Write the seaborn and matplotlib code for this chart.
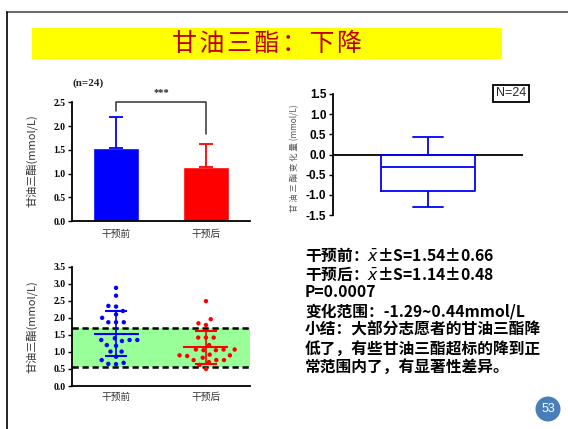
import matplotlib
matplotlib.use("Agg")
import matplotlib.pyplot as plt
from matplotlib.lines import Line2D
from matplotlib.patches import Rectangle
from matplotlib.ticker import FormatStrFormatter, MultipleLocator
import numpy as np
import pandas as pd
import seaborn as sns

# ─── Data ─────────────────────────────────────────────────────────────────────

groups = ["干预前", "干预后"]
group_colors = ["#0000ff", "#ff0000"]

# individual triglyceride values (mmol/L)
before_vals = [2.88, 2.65, 2.35, 2.33, 2.20, 2.10, 2.00, 1.87, 1.87, 1.87, 1.40, 1.35,
               1.35, 1.35, 1.32, 1.20, 1.18, 1.01, 1.01, 0.86, 0.76, 0.68, 0.65, 0.64]
after_vals = [2.49, 1.96, 1.84, 1.79, 1.42, 1.42, 1.42, 1.20, 1.07, 1.07, 1.07, 1.05,
              1.05, 0.92, 0.90, 0.90, 0.88, 0.83, 0.76, 0.76, 0.76, 0.70, 0.62, 0.50]

mean_vals = [1.54, 1.14]
sd_vals = [0.66, 0.48]
normal_range = [0.57, 1.70]

# change after - before: min, Q1, median, Q3, max
change_summary = [-1.29, -0.90, -0.30, 0.00, 0.44]

summary_lines = [
    "干预前：$\\bar{x}$±S=1.54±0.66",
    "干预后：$\\bar{x}$±S=1.14±0.48",
    "P=0.0007",
    "变化范围：-1.29~0.44mmol/L",
    "小结：大部分志愿者的甘油三酯降",
    "低了，有些甘油三酯超标的降到正",
    "常范围内了，有显著性差异。",
]

# ─── Setup ────────────────────────────────────────────────────────────────────

W, H = 568, 429
sns.set_theme(style="white")
plt.rcParams["font.family"] = ["Noto Sans CJK SC", "DejaVu Sans"]
plt.rcParams["axes.unicode_minus"] = False
plt.rcParams["mathtext.fontset"] = "dejavusans"

fig = plt.figure(figsize=(W / 100, H / 100), dpi=100)
fig.patch.set_facecolor("white")


def fig_box(x0, y0, x1, y1):
    """pixel box (top-left origin) -> figure fraction rect"""
    return [x0 / W, 1 - y1 / H, (x1 - x0) / W, (y1 - y0) / H]


def fx(x):
    return x / W


def fy(y):
    return 1 - y / H


# slide frame
fig.add_artist(Line2D([fx(7), 1], [fy(12), fy(12)], color="#6e6e6e", lw=1.5))
fig.add_artist(Line2D([fx(7), fx(7)], [fy(12), 0], color="black", lw=1.2))

# title bar
fig.add_artist(Rectangle((fx(32), fy(59)), (502 - 32) / W, 31 / H,
                         transform=fig.transFigure, color="#ffff00", lw=0))
fig.text(fx(267), fy(43.5), "\u200a".join("甘油三酯：下降"), ha="center", va="center",
         fontsize=18, color="#c00000", fontweight="medium")


def style_serif_ticks(ax, size=7):
    for lbl in ax.get_yticklabels():
        lbl.set_fontfamily("Liberation Serif")
        lbl.set_fontweight("bold")
        lbl.set_fontsize(size)


def style_axes(ax):
    for side in ["top", "right"]:
        ax.spines[side].set_visible(False)
    for side in ["left", "bottom"]:
        ax.spines[side].set_color("black")
        ax.spines[side].set_linewidth(1.3)
    ax.tick_params(axis="y", left=True, length=3, width=1, pad=1.5, colors="black")
    ax.tick_params(axis="x", bottom=False, labelsize=7, labelcolor="#333333")
    ax.set_xlabel("")
    ax.set_ylabel("")


# ─── Top left: bar chart ──────────────────────────────────────────────────────

ax1 = fig.add_axes(fig_box(72, 102.3, 250, 221.3))
sns.barplot(x=groups, y=mean_vals, hue=groups, palette=group_colors, saturation=1,
            width=0.51, legend=False, ax=ax1)
for i, (m, s) in enumerate(zip(mean_vals, sd_vals)):
    ax1.errorbar(i, m, yerr=[[0], [s]], fmt="none", ecolor=group_colors[i],
                 elinewidth=1.3, capsize=5, capthick=1.3, zorder=1)
ax1.set_ylim(0, 2.5)
ax1.set_xlim(-0.49, 1.49)
ax1.yaxis.set_major_locator(MultipleLocator(0.5))
ax1.yaxis.set_major_formatter(FormatStrFormatter("%.1f"))
style_axes(ax1)
ax1.tick_params(axis="x", pad=-0.5)
style_serif_ticks(ax1)

# significance bracket
ax1.plot([0, 0, 1, 1], [2.31, 2.5, 2.5, 1.83], color="#333333", lw=1.1, clip_on=False)
ax1.text(0.5, 2.7, "***", ha="center", va="center", fontsize=7.5,
         fontfamily="Liberation Serif", fontweight="bold")
ax1.text(-0.31, 2.9, "(n=24)", ha="center", va="center", fontsize=8,
         fontfamily="Liberation Serif", fontweight="bold")
fig.text(fx(32), fy(161), "甘油三酯(mmol/L)", rotation=90, ha="center", va="center",
         fontsize=8, color="#333333", fontweight="light")

# ─── Bottom left: dot plot ────────────────────────────────────────────────────

ax2 = fig.add_axes(fig_box(72, 266.7, 250, 386))
ax2.axhspan(normal_range[0], normal_range[1], color="#99ff99", lw=0, zorder=0)
for v in normal_range:
    ax2.axhline(v, color="black", lw=1.8, ls=(0, (2.5, 1.5)), zorder=1)

df = pd.DataFrame({
    "group": [groups[0]] * len(before_vals) + [groups[1]] * len(after_vals),
    "value": before_vals + after_vals,
})
sns.swarmplot(data=df, x="group", y="value", hue="group", order=groups,
              palette=dict(zip(groups, group_colors)), size=5.3, linewidth=0,
              legend=False, ax=ax2, zorder=2)

for i, (m, s) in enumerate(zip(mean_vals, sd_vals)):
    c = group_colors[i]
    ax2.hlines(m, i - 0.25, i + 0.25, color=c, lw=1.5, zorder=3)
    ax2.hlines([m + s, m - s], i - 0.12, i + 0.12, color=c, lw=1.5, zorder=3)
    ax2.vlines(i, m - s, m + s, color=c, lw=1.2, zorder=3)

ax2.set_ylim(0, 3.5)
ax2.set_xlim(-0.49, 1.49)
ax2.yaxis.set_major_locator(MultipleLocator(0.5))
ax2.yaxis.set_major_formatter(FormatStrFormatter("%.1f"))
style_axes(ax2)
ax2.tick_params(axis="x", pad=-2)
style_serif_ticks(ax2)
fig.text(fx(32), fy(327), "甘油三酯(mmol/L)", rotation=90, ha="center", va="center",
         fontsize=8, color="#333333", fontweight="light")

# ─── Top right: change box plot ───────────────────────────────────────────────

ax3 = fig.add_axes(fig_box(332.7, 94, 523, 215))
sns.boxplot(y=change_summary, fill=False, color="#0000ff", width=0.8, linewidth=1.3,
            whis=1.5, capwidths=0.26, ax=ax3)
ax3.axhline(0, color="black", lw=1.3, zorder=0)
ax3.set_ylim(-1.5, 1.5)
ax3.set_xlim(-0.81, 0.81)
ax3.yaxis.set_major_locator(MultipleLocator(0.5))
ax3.yaxis.set_major_formatter(FormatStrFormatter("%.1f"))
style_axes(ax3)
ax3.spines["bottom"].set_visible(False)
ax3.set_xticks([])
for lbl in ax3.get_yticklabels():
    lbl.set_fontfamily("Liberation Sans")
    lbl.set_fontweight("bold")
    lbl.set_fontsize(8.5)
fig.text(fx(295), fy(158), "甘 油 三 酯 变 化 量 (mmol/L)", rotation=90, ha="center",
         va="center", fontsize=6, color="#555555")
fig.text(fx(511), fy(93.5), "N=24", ha="center", va="center", fontsize=9,
         fontfamily="Liberation Sans",
         bbox=dict(boxstyle="square,pad=0.2", fc="white", ec="black", lw=1.3))

# ─── Text summary ─────────────────────────────────────────────────────────────

for k, line in enumerate(summary_lines):
    fig.text(fx(305), fy(255 + k * 18.7), line, ha="left", va="center",
             fontsize=11.3, fontweight="bold", color="black")

# page number
fig.text(fx(548), fy(409), "53", ha="center", va="center", fontsize=9, color="white",
         fontfamily="Liberation Sans",
         bbox=dict(boxstyle="circle,pad=0.45", fc="#4a7ebb", ec="none"))

# lay out the swarm with wider spacing, then shrink the dots
fig.canvas.draw()
for coll in ax2.collections:
    if "draw" in coll.__dict__:
        del coll.draw
        coll.set_sizes([10])

fig.savefig("out.png", dpi=100, facecolor="white")
